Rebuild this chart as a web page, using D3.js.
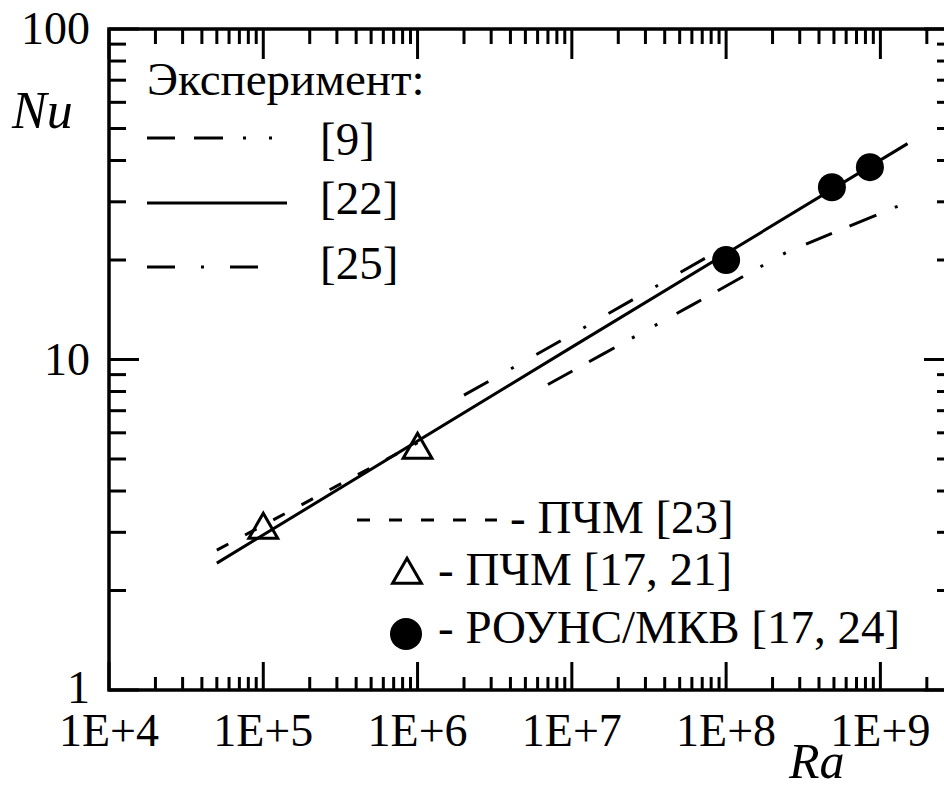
<!DOCTYPE html>
<html><head><meta charset="utf-8">
<script src="https://cdn.jsdelivr.net/npm/d3@7"></script>
<style>body{margin:0;background:#fff} svg{display:block}</style>
</head><body><svg id="c" width="944" height="787" font-family="'Liberation Serif', Tinos, 'Times New Roman', Times, 'DejaVu Serif', serif"></svg>
<script>
// ---- data ----
const xTickValues = [1e4, 1e5, 1e6, 1e7, 1e8, 1e9];
const xTickLabels = ["1E+4", "1E+5", "1E+6", "1E+7", "1E+8", "1E+9"];
const yTickValues = [1, 10, 100];
const yTickLabels = ["1", "10", "100"];

const ra22 = [5e4, 1e7, 1.5e9];               // experiment [22], solid
const nu22 = [2.42, 10.9, 45];
const ra9 = [7e6, 1.6e7, 6e7, 2.5e8, 1.3e9];  // experiment [9]
const nu9 = [8.4, 10.4, 14.6, 21.2, 29.1];
const ra25 = [2e6, 1e7, 9e7];                 // experiment [25]
const nu25 = [7.8, 11.9, 21.4];
const ra23 = [5e4, 1e6];                      // ПЧМ [23]
const nu23 = [2.65, 5.6];
const raTri = [1e5, 1e6];                     // ПЧМ [17, 21]
const nuTri = [3.05, 5.33];
const raCirc = [1e8, 4.85e8, 8.55e8];         // РОУНС/МКВ [17, 24]
const nuCirc = [20, 33.2, 38.2];

const legendTitle = "Эксперимент:";
const legendExp = ["[9]", "[22]", "[25]"];
const legendSim = ["- ПЧМ [23]", "- ПЧМ [17, 21]", "- РОУНС/МКВ [17, 24]"];
const xAxisTitle = "Ra";
const yAxisTitle = "Nu";

// ---- styles ----
const dash9 = "28,19,29,20,3,23,3,22";
const dash25 = "28,26,3,26";
const dash23 = "13,19";

const svg = d3.select("#c");
const L = 109, R = 954, T = 29, B = 690;
const x = d3.scaleLog().domain([1e4, 3e9]).range([L, R]);
const y = d3.scaleLog().domain([1, 100]).range([B, T]);

const isMajor = v => Math.abs(Math.log10(v) - Math.round(Math.log10(v))) < 1e-9;

// ticks
const g = svg.append("g").attr("stroke", "#000").attr("stroke-width", 3);
x.ticks().forEach(v => {
  const px = x(v);
  const lt = isMajor(v) ? 30 : 15;
  const lb = isMajor(v) ? 28 : 13;
  g.append("line").attr("x1", px).attr("x2", px).attr("y1", T).attr("y2", T + lt);
  g.append("line").attr("x1", px).attr("x2", px).attr("y1", B).attr("y2", B - lb);
});
y.ticks().forEach(v => {
  const py = y(v);
  const l = isMajor(v) ? 30 : 17;
  g.append("line").attr("y1", py).attr("y2", py).attr("x1", L).attr("x2", L + l);
  g.append("line").attr("y1", py).attr("y2", py).attr("x1", R).attr("x2", R - l);
});
svg.append("rect").attr("x", L).attr("y", T).attr("width", R - L).attr("height", B - T)
  .attr("fill", "none").attr("stroke", "#000").attr("stroke-width", 3.5);

// tick labels
svg.selectAll("text.xl").data(xTickValues).join("text").attr("class", "xl")
  .attr("x", d => x(d)).attr("y", 746).attr("text-anchor", "middle")
  .attr("font-size", 46).text((d, i) => xTickLabels[i]);
svg.selectAll("text.yl").data(yTickValues).join("text").attr("class", "yl")
  .attr("x", 90).attr("y", (d, i) => y(d) + (i === 0 ? 13 : 15)).attr("text-anchor", "end")
  .attr("font-size", 46).text((d, i) => yTickLabels[i]);

svg.append("text").attr("x", 12).attr("y", 128).attr("font-size", 52)
  .attr("font-style", "italic").text(yAxisTitle);
svg.append("text").attr("x", 789).attr("y", 778).attr("font-size", 50)
  .attr("font-style", "italic").text(xAxisTitle);

// lines
const line = d3.line().x(d => x(d[0])).y(d => y(d[1]));
const series = [
  {ra: ra22, nu: nu22, dash: null},
  {ra: ra9, nu: nu9, dash: dash9},
  {ra: ra25, nu: nu25, dash: dash25},
  {ra: ra23, nu: nu23, dash: dash23}
];
series.forEach(s => {
  svg.append("path").datum(d3.zip(s.ra, s.nu)).attr("d", line)
    .attr("fill", "none").attr("stroke", "#000").attr("stroke-width", 3)
    .attr("stroke-dasharray", s.dash);
});

// markers
const tri = d3.symbol().type(d3.symbolTriangle).size(360);
svg.selectAll("path.tri").data(d3.zip(raTri, nuTri)).join("path").attr("class", "tri")
  .attr("d", tri).attr("transform", d => `translate(${x(d[0])},${y(d[1])})`)
  .attr("fill", "none").attr("stroke", "#000").attr("stroke-width", 3);
svg.selectAll("circle.pt").data(d3.zip(raCirc, nuCirc)).join("circle").attr("class", "pt")
  .attr("cx", d => x(d[0])).attr("cy", d => y(d[1])).attr("r", 14).attr("fill", "#000");

// legend (experiment)
const fsL = 47;
svg.append("text").attr("x", 147).attr("y", 95).attr("font-size", fsL).text(legendTitle);
const expRows = [
  {y: 138, x2: 285, dash: dash9, ty: 155},
  {y: 203, x2: 287, dash: null, ty: 214},
  {y: 267, x2: 263, dash: dash25, ty: 279}
];
expRows.forEach((r, i) => {
  svg.append("line").attr("x1", 147).attr("x2", r.x2).attr("y1", r.y).attr("y2", r.y)
    .attr("stroke", "#000").attr("stroke-width", 3).attr("stroke-dasharray", r.dash);
  svg.append("text").attr("x", 320).attr("y", r.ty).attr("font-size", fsL).text(legendExp[i]);
});

// legend (simulation)
svg.append("line").attr("x1", 357).attr("x2", 497).attr("y1", 520).attr("y2", 520)
  .attr("stroke", "#000").attr("stroke-width", 3).attr("stroke-dasharray", dash23);
svg.append("text").attr("x", 510).attr("y", 533).attr("font-size", fsL).text(legendSim[0]);
svg.append("path").attr("d", tri).attr("transform", "translate(407,575)")
  .attr("fill", "none").attr("stroke", "#000").attr("stroke-width", 3);
svg.append("text").attr("x", 438).attr("y", 585).attr("font-size", fsL).text(legendSim[1]);
svg.append("circle").attr("cx", 406).attr("cy", 634).attr("r", 16).attr("fill", "#000");
svg.append("text").attr("x", 438).attr("y", 643).attr("font-size", fsL).text(legendSim[2]);
</script></body></html>
